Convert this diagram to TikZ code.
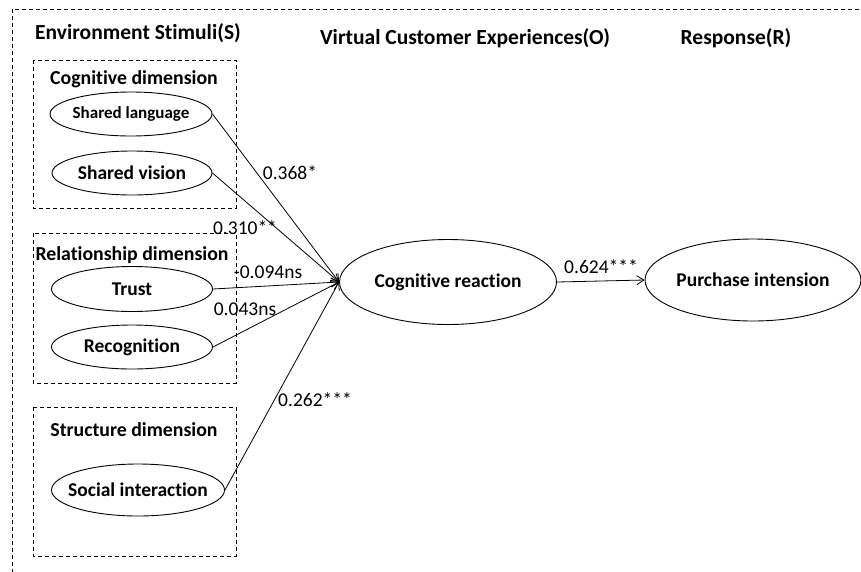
\documentclass[tikz,border=0pt]{standalone}
\usepackage{fontspec}
\setmainfont[Ligatures=NoCommon]{Carlito}
\usetikzlibrary{shapes.geometric,arrows.meta}
\begin{document}
\begin{tikzpicture}[x=1pt,y=-1pt,
  ell/.style={ellipse,draw,line width=0.9pt,inner xsep=-12pt,inner ysep=0pt,font=\fontsize{19.5}{22}\selectfont\bfseries},
  ttl/.style={font=\fontsize{21.5}{24}\selectfont\bfseries},
  dim/.style={font=\fontsize{19.8}{22}\selectfont\bfseries},
  lbl/.style={font=\fontsize{19.5}{22}\selectfont},
  dbox/.style={draw,line width=0.8pt,dash pattern=on 4pt off 3pt},
  arr/.style={-{Straight Barb[length=7pt,width=9pt]},line width=0.8pt}]
  \useasboundingbox (0,0) rectangle (861,571);
  \clip (0,0) rectangle (861,571);
  \draw[dbox] (12,9) rectangle (880,590);
  \draw[dbox] (33,60) rectangle (236,208);
  \draw[dbox] (33,233) rectangle (236,383);
  \draw[dbox] (33,407) rectangle (236,556);

  \node[ttl] (s) at (138,33) {Environment Stimuli(S)};
  \node[ttl] (o) at (465,38) {Virtual Customer Experiences(O)};
  \node[ttl] (r) at (736,38) {Response(R)};
  \node[dim] (cd) at (134,79) {Cognitive dimension};
  \node[dim] (rd) at (132,255) {Relationship dimension};
  \node[dim] (sd) at (134,430) {Structure dimension};

  \node[ell,minimum width=162pt,minimum height=44pt,font=\fontsize{17}{20}\selectfont\bfseries] (sl) at (131,114) {Shared language};
  \node[ell,minimum width=160pt,minimum height=44pt] (sv) at (132,173) {Shared vision};
  \node[ell,minimum width=161pt,minimum height=45pt] (tr) at (132,289) {Trust};
  \node[ell,minimum width=161pt,minimum height=44pt] (rc) at (132,347) {Recognition};
  \node[ell,minimum width=173pt,minimum height=52pt] (si) at (138,490) {Social interaction};
  \node[ell,minimum width=217pt,minimum height=85pt] (cr) at (448,282) {Cognitive reaction};
  \node[ell,minimum width=216pt,minimum height=82pt] (pi) at (753,280) {Purchase intension};

  \draw[arr] (sl.east) -- (cr.west);
  \draw[arr] (sv.east) -- (cr.west);
  \draw[arr] (tr.east) -- (cr.west);
  \draw[arr] (rc.east) -- (cr.west);
  \draw[arr] (si.east) -- (cr.west);
  \draw[arr] (cr.east) -- (pi.west);

  \node[lbl] (l1) at (290,173) {0.368*};
  \node[lbl] (l2) at (245,228) {0.310**};
  \node[lbl] (l3) at (268,272) {-0.094ns};
  \node[lbl] (l4) at (245,309) {0.043ns};
  \node[lbl] (l5) at (315,400) {0.262***};
  \node[lbl] (l6) at (601,267) {0.624***};
\end{tikzpicture}
\end{document}
